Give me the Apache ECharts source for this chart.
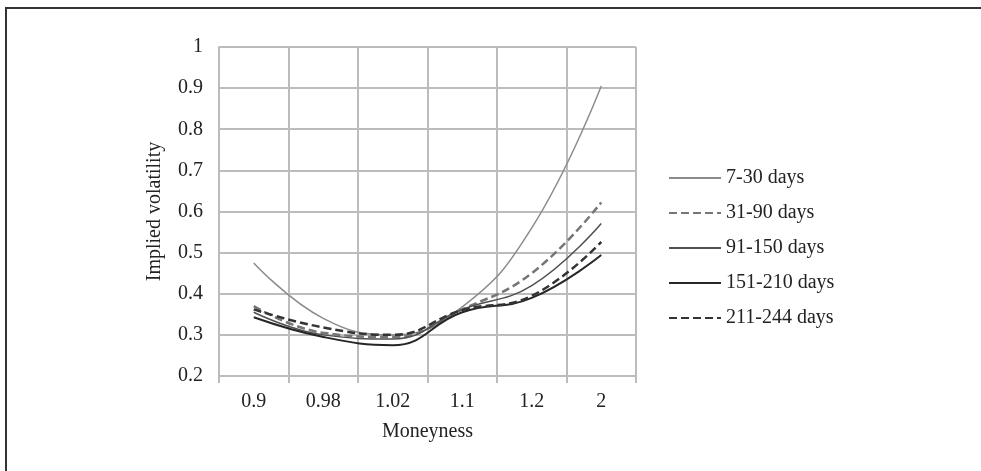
<!DOCTYPE html>
<html lang="en">
<head>
    <meta charset="UTF-8">
    <title>Implied volatility vs moneyness</title>
    <script src="https://cdn.jsdelivr.net/npm/echarts@6/dist/echarts.min.js"></script>
    <style type="text/css">
        html, body{
            margin: 0;
            padding: 0;
            background: #fff;
        }
        .frame{
            position: absolute;
            top: 7px;
            left: 5px;
            width: 976px;
            height: 464px;
            border-top: 2px solid #333;
            border-left: 2px solid #333;
        }
        #main{
            position: absolute;
            top: 0;
            left: 0;
            width: 981px;
            height: 471px;
        }
    </style>
</head>
<body>
    <div class="frame"></div>
    <div id="main"></div>
    <script>
        // x categories (moneyness buckets)
        var moneyness = ['0.9', '0.98', '1.02', '1.1', '1.2', '2'];
        // implied volatility by maturity bucket
        var days7to30 = [0.475, 0.34, 0.30, 0.368, 0.56, 0.905];
        var days31to90 = [0.37, 0.305, 0.295, 0.362, 0.45, 0.622];
        var days91to150 = [0.355, 0.30, 0.29, 0.362, 0.42, 0.571];
        var days151to210 = [0.343, 0.295, 0.275, 0.355, 0.39, 0.494];
        var days211to244 = [0.362, 0.318, 0.30, 0.36, 0.395, 0.526];

        var serif = '"Liberation Serif", "DejaVu Serif", serif';
        var gridColor = '#bcbcbc';

        var myChart = echarts.init(document.getElementById('main'));

        function line(name, data, color, width, dashed) {
            return {
                name: name,
                type: 'line',
                data: data,
                smooth: 0.45,
                symbol: 'none',
                lineStyle: {
                    color: color,
                    width: width,
                    type: dashed ? [8, 4] : 'solid'
                },
                itemStyle: { color: color }
            };
        }

        var option = {
            animation: false,
            grid: {
                left: 219,
                right: 345,
                top: 47,
                bottom: 95
            },
            legend: {
                orient: 'vertical',
                left: 663,
                top: 163,
                itemWidth: 52,
                itemHeight: 14,
                itemGap: 15,
                itemStyle: { opacity: 0 },
                textStyle: {
                    fontFamily: serif,
                    fontSize: 20,
                    color: '#222'
                },
                data: ['7-30 days', '31-90 days', '91-150 days', '151-210 days', '211-244 days']
            },
            xAxis: {
                type: 'category',
                data: moneyness,
                boundaryGap: true,
                name: 'Moneyness',
                nameLocation: 'middle',
                nameGap: 46,
                nameTextStyle: {
                    fontFamily: serif,
                    fontSize: 20,
                    color: '#222'
                },
                axisLine: { lineStyle: { color: gridColor, width: 2 } },
                axisTick: { show: true, length: 7, lineStyle: { color: gridColor, width: 2 } },
                axisLabel: {
                    margin: 16,
                    fontFamily: serif,
                    fontSize: 20,
                    color: '#222'
                },
                splitLine: { show: true, lineStyle: { color: gridColor, width: 2 } }
            },
            yAxis: {
                type: 'value',
                min: 0.2,
                max: 1,
                interval: 0.1,
                name: 'Implied volatility',
                nameLocation: 'middle',
                nameGap: 54,
                nameTextStyle: {
                    fontFamily: serif,
                    fontSize: 20,
                    color: '#222'
                },
                axisLine: { show: true, lineStyle: { color: gridColor, width: 2 } },
                axisTick: { show: false },
                axisLabel: {
                    margin: 16,
                    fontFamily: serif,
                    fontSize: 20,
                    color: '#222',
                    formatter: function (v) { return String(Math.round(v * 10) / 10); }
                },
                splitLine: { show: true, lineStyle: { color: gridColor, width: 2 } }
            },
            series: [
                line('7-30 days', days7to30, '#8c8c8c', 1.5, false),
                line('31-90 days', days31to90, '#767676', 2.5, true),
                line('91-150 days', days91to150, '#505050', 1.5, false),
                line('151-210 days', days151to210, '#262626', 2, false),
                line('211-244 days', days211to244, '#333333', 2.5, true)
            ]
        };

        myChart.setOption(option);
    </script>
</body>
</html>
